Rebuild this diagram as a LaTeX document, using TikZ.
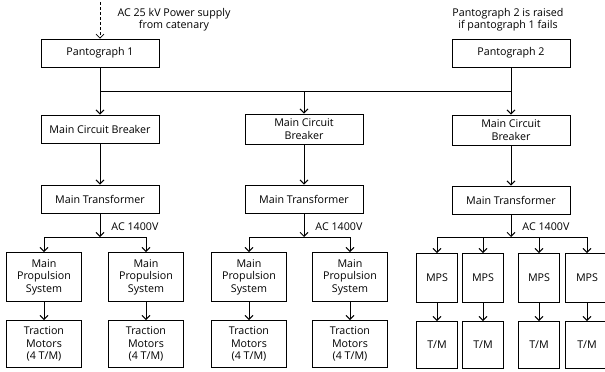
\documentclass[tikz,border=0pt]{standalone}
\usepackage{fontspec}
\setmainfont{Open Sans}
\usetikzlibrary{arrows.meta, positioning, calc}

\begin{document}
\begin{tikzpicture}[x=1pt, y=-1pt,
    font=\fontsize{10.7}{12.4}\selectfont,
    line width=0.95pt,
    >={Straight Barb[length=4pt, width=8pt]},
    unitbox/.style={draw, rectangle, align=center, inner sep=1pt},
    wide/.style={unitbox, minimum width=118pt, minimum height=28pt},
    mpsbox/.style={unitbox, minimum width=75pt, minimum height=49pt},
    tmbox/.style={unitbox, minimum width=75pt, minimum height=47pt},
    smallbox/.style={unitbox, minimum width=41pt, minimum height=49pt},
    smalltm/.style={unitbox, minimum width=41pt, minimum height=47pt},
    note/.style={align=center, inner sep=0pt}]
  \useasboundingbox (0,0) rectangle (605,372);
  \clip (0,0) rectangle (605,372);

  % Supply and pantographs
  \coordinate (feed) at (100,2);
  \node[wide] (p1) at (100,53) {Pantograph 1};
  \node[wide] (p2) at (511,53) {Pantograph 2};
  \node[note] (supply) at (174,20) {AC 25 kV Power supply\\from catenary};
  \node[note] (raise) at (508,20) {Pantograph 2 is raised\\if pantograph 1 fails};
  \draw[->, line width=0.6pt, densely dashed] (feed) -- (p1.north);

  % Main circuit breakers
  \node[wide] (mcb1) at (100,129) {Main Circuit Breaker};
  \node[wide, minimum height=30pt] (mcb2) at (304,129) {Main Circuit\\Breaker};
  \node[wide, minimum height=30pt] (mcb3) at (511,130) {Main Circuit\\Breaker};
  \coordinate (bus) at (0,91);
  \draw (p1 |- bus) -- (p2 |- bus);
  \draw[->] (p1.south) -- (mcb1.north);
  \draw[->] (p2.south) -- (mcb3.north);
  \draw[->] (mcb2 |- bus) -- (mcb2.north);

  % Main transformers
  \node[wide] (mt1) at (100,199) {Main Transformer};
  \node[wide] (mt2) at (304,199) {Main Transformer};
  \node[wide] (mt3) at (511,200) {Main Transformer};
  \foreach \i in {1,2,3}
    \draw[->] (mcb\i.south) -- (mt\i.north);

  % AC 1400V branches
  \coordinate (j1) at (100,237);
  \coordinate (j2) at (304,237);
  \coordinate (j3) at (511,237);
  \foreach \i in {1,2,3} {
    \draw[->] (mt\i.south) -- (j\i);
    \node[note, anchor=west] (ac\i) at ($(j\i)+(11,-10)$) {AC 1400V};
  }

  % Column 1
  \node[mpsbox] (mps1) at (44,277) {Main\\Propulsion\\System};
  \node[mpsbox] (mps2) at (146,277) {Main\\Propulsion\\System};
  \node[tmbox] (tm1) at (44,344) {Traction\\Motors\\(4 T/M)};
  \node[tmbox] (tm2) at (146,344) {Traction\\Motors\\(4 T/M)};
  \draw (mps1 |- j1) -- (mps2 |- j1);

  % Column 2
  \node[mpsbox] (mps3) at (249,277) {Main\\Propulsion\\System};
  \node[mpsbox] (mps4) at (350,277) {Main\\Propulsion\\System};
  \node[tmbox] (tm3) at (249,344) {Traction\\Motors\\(4 T/M)};
  \node[tmbox] (tm4) at (350,344) {Traction\\Motors\\(4 T/M)};
  \draw (mps3 |- j2) -- (mps4 |- j2);

  \foreach \i/\j in {1/1,2/1,3/2,4/2} {
    \draw[->] (mps\i |- j\j) -- (mps\i.north);
    \draw[->] (mps\i.south) -- (tm\i.north);
  }

  % Column 3
  \node[smallbox] (mps5) at (437,278) {MPS};
  \node[smallbox] (mps6) at (483,278) {MPS};
  \node[smallbox] (mps7) at (539,278) {MPS};
  \node[smallbox, minimum width=44pt] (mps8) at (587,278) {MPS};
  \node[smalltm] (tm5) at (437,345) {T/M};
  \node[smalltm] (tm6) at (483,345) {T/M};
  \node[smalltm] (tm7) at (539,345) {T/M};
  \node[smalltm, minimum width=44pt] (tm8) at (587,345) {T/M};
  \draw (mps5 |- j3) -- (mps8 |- j3);
  \foreach \i in {5,...,8} {
    \draw[->] (mps\i |- j3) -- (mps\i.north);
    \draw[->] (mps\i.south) -- (tm\i.north);
  }
\end{tikzpicture}
\end{document}
